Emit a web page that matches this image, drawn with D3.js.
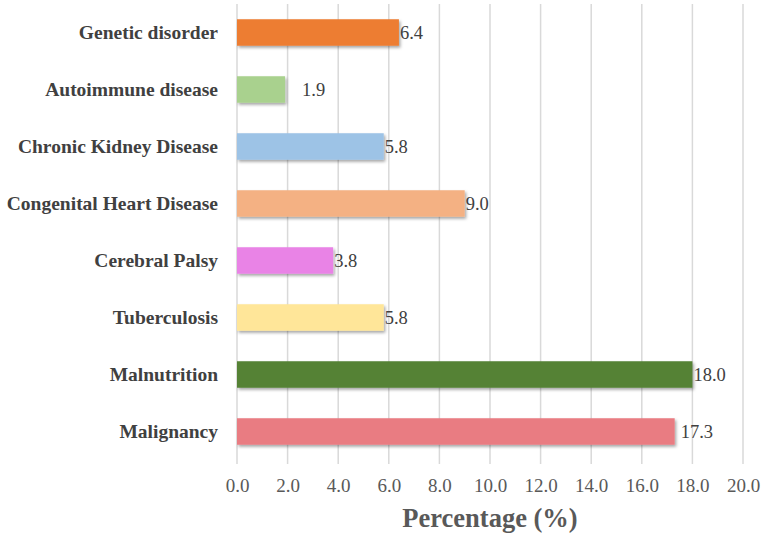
<!DOCTYPE html>
<html>
<head>
<meta charset="utf-8">
<script src="https://cdn.jsdelivr.net/npm/d3@7"></script>
<style>
  body { margin: 0; background: #fff; }
  svg { display: block; }
</style>
</head>
<body>
<div id="chart-area"></div>
<script>
var categories = [
  "Genetic disorder",
  "Autoimmune disease",
  "Chronic Kidney Disease",
  "Congenital Heart Disease",
  "Cerebral Palsy",
  "Tuberculosis",
  "Malnutrition",
  "Malignancy"
];
var values = [6.4, 1.9, 5.8, 9.0, 3.8, 5.8, 18.0, 17.3];
var colors = ["#ED7D31", "#A9D18E", "#9DC3E6", "#F4B183", "#E983E6", "#FFE699", "#548235", "#E97C82"];
var xTicks = [0, 2, 4, 6, 8, 10, 12, 14, 16, 18, 20];

// a few labels sit further from the bar end in the original
var labelGap = { "Autoimmune disease": 17, "Malignancy": 6 };

var width = 765, height = 534;
var plotLeft = 237, plotRight = 743, plotTop = 4, plotBottom = 460;

var svg = d3
  .select("#chart-area")
  .append("svg")
  .attr("width", width)
  .attr("height", height);

var defs = svg.append("defs");
var shadow = defs.append("filter")
  .attr("id", "shadow")
  .attr("x", "-5%").attr("y", "-20%")
  .attr("width", "115%").attr("height", "160%");
shadow.append("feDropShadow")
  .attr("dx", 1.5)
  .attr("dy", 2)
  .attr("stdDeviation", 1.5)
  .attr("flood-color", "#000")
  .attr("flood-opacity", 0.35);

var x = d3.scaleLinear().domain([0, 20]).range([plotLeft, plotRight]);
var y = d3.scaleBand().domain(categories).range([plotTop, plotBottom]).paddingInner(0.535).paddingOuter(0.2675);

// grid lines
svg.append("g")
  .selectAll("line")
  .data(xTicks)
  .enter()
  .append("line")
  .attr("x1", d => x(d))
  .attr("x2", d => x(d))
  .attr("y1", plotTop)
  .attr("y2", plotBottom + 4)
  .attr("stroke", "#d9d9d9")
  .attr("stroke-width", 1.5);

var xAxis = svg.append("g")
  .attr("transform", "translate(0," + plotBottom + ")")
  .call(d3.axisBottom(x).tickValues(xTicks).tickFormat(d3.format(".1f")).tickSize(0).tickPadding(19));
xAxis.select(".domain").remove();
xAxis.selectAll("text")
  .attr("font-family", "Liberation Serif, serif")
  .attr("font-size", 19)
  .attr("fill", "#595959");

var yAxis = svg.append("g")
  .attr("transform", "translate(" + (plotLeft - 19) + ",0)")
  .call(d3.axisLeft(y).tickSize(0).tickPadding(0));
yAxis.select(".domain").remove();
yAxis.selectAll("text")
  .attr("font-family", "Liberation Serif, serif")
  .attr("font-weight", "bold")
  .attr("font-size", 19.5)
  .attr("fill", "#404040");

svg.append("g")
  .selectAll("rect")
  .data(values)
  .enter()
  .append("rect")
  .attr("x", x(0))
  .attr("y", (d, i) => y(categories[i]))
  .attr("width", d => x(d) - x(0))
  .attr("height", y.bandwidth())
  .attr("fill", (d, i) => colors[i])
  .attr("filter", "url(#shadow)");

svg.append("g")
  .selectAll("text")
  .data(values)
  .enter()
  .append("text")
  .attr("x", (d, i) => x(d) + (labelGap[categories[i]] || 1))
  .attr("y", (d, i) => y(categories[i]) + y.bandwidth() / 2)
  .attr("dy", "0.35em")
  .attr("font-family", "Liberation Serif, serif")
  .attr("font-size", 18.5)
  .attr("fill", "#404040")
  .text(d => d.toFixed(1));

svg.append("text")
  .attr("x", (plotLeft + plotRight) / 2)
  .attr("y", 527)
  .attr("text-anchor", "middle")
  .attr("font-family", "Liberation Serif, serif")
  .attr("font-weight", "bold")
  .attr("font-size", 26.5)
  .attr("fill", "#595959")
  .text("Percentage (%)");
</script>
</body>
</html>
